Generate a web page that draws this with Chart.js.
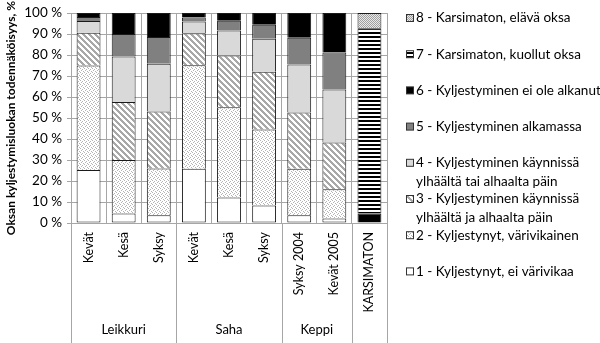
<!DOCTYPE html>
<html>
<head>
<meta charset="utf-8">
<script src="https://cdn.jsdelivr.net/npm/chart.js@4/dist/chart.umd.min.js"></script>
<style>
    html, body { margin: 0; padding: 0; background: #fff; }
    #wrap { position: relative; width: 600px; height: 343px; }
</style>
</head>
<body>
<div id="wrap"><canvas id="branchChart" width="600" height="343"></canvas></div>
<script>
// Categories and groups
const categories = ['Kevät', 'Kesä', 'Syksy', 'Kevät', 'Kesä', 'Syksy', 'Syksy 2004', 'Kevät 2005', 'KARSIMATON'];
const groupNames = ['Leikkuri', 'Saha', 'Keppi', ''];
const groupSizes = [3, 3, 2, 1];
const yTicks = [0, 10, 20, 30, 40, 50, 60, 70, 80, 90, 100];

// Series names (legend lines)
const seriesNames = [
    ['1 - Kyljestynyt, ei värivikaa'],
    ['2 - Kyljestynyt, värivikainen'],
    ['3 - Kyljestyminen käynnissä', 'ylhäältä ja alhaalta päin'],
    ['4 - Kyljestyminen käynnissä', 'ylhäältä tai alhaalta päin'],
    ['5 - Kyljestyminen alkamassa'],
    ['6 - Kyljestyminen ei ole alkanut'],
    ['7 - Karsimaton, kuollut oksa'],
    ['8 - Karsimaton, elävä oksa']
];

// Values (%), one array per class
const class1 = [25.3, 4.5, 3.7, 25.8, 12.2, 8.3, 3.7, 2.2, null];
const class2 = [49.7, 25.5, 22.3, 49.4, 42.9, 36.3, 22.1, 13.9, null];
const class3 = [15.6, 27.7, 27.1, 15.2, 24.7, 27.5, 26.8, 22.3, null];
const class4 = [5.6, 21.6, 22.8, 5.6, 11.9, 15.7, 22.9, 25.2, null];
const class5 = [2.0, 10.8, 12.7, 1.9, 4.6, 6.6, 12.8, 17.6, null];
const class6 = [1.8, 9.9, 11.4, 2.1, 3.7, 5.6, 11.7, 18.8, 4.5];
const class7 = [null, null, null, null, null, null, null, null, 88.3];
const class8 = [null, null, null, null, null, null, null, null, 7.2];

const FONT = 'Lato, "Open Sans", sans-serif';
const GRID = '#a6a6a6';

function makePattern(w, h, draw) {
    const c = document.createElement('canvas');
    c.width = w;
    c.height = h;
    const g = c.getContext('2d');
    draw(g, w, h);
    return g.createPattern(c, 'repeat');
}

const ctxMain = document.getElementById('branchChart').getContext('2d');

const fills = [
    '#ffffff',
    // light stipple
    makePattern(4, 4, (g) => {
        g.fillStyle = '#ffffff'; g.fillRect(0, 0, 4, 4);
        g.fillStyle = '#b4b4b4';
        g.fillRect(0, 0, 1, 1); g.fillRect(2, 1, 1, 1); g.fillRect(1, 2, 1, 1); g.fillRect(3, 3, 1, 1);
    }),
    // diagonal hatch
    makePattern(6, 6, (g) => {
        g.fillStyle = '#ffffff'; g.fillRect(0, 0, 6, 6);
        g.fillStyle = '#a8a8a8';
        for (let i = 0; i < 6; i++) {
            g.fillRect(i, i, 1, 1);
            g.fillRect((i + 1) % 6, i, 1, 1);
            g.fillRect((i + 2) % 6, i, 1, 1);
        }
    }),
    '#d9d9d9',
    '#808080',
    '#000000',
    // horizontal stripes
    makePattern(4, 4, (g) => {
        g.fillStyle = '#ffffff'; g.fillRect(0, 0, 4, 4);
        g.fillStyle = '#000000'; g.fillRect(0, 0, 4, 2);
    }),
    // dense dots
    makePattern(2, 2, (g) => {
        g.fillStyle = '#e8e8e8'; g.fillRect(0, 0, 2, 2);
        g.fillStyle = '#a0a0a0'; g.fillRect(0, 0, 1, 1); g.fillRect(1, 1, 1, 1);
    })
];

const seriesData = [class1, class2, class3, class4, class5, class6, class7, class8];

const groupPlugin = {
    id: 'groupLabels',
    afterDraw(chart) {
        const ctx = chart.ctx;
        const area = chart.chartArea;
        const cat = (area.right - area.left) / categories.length;
        ctx.save();
        ctx.strokeStyle = GRID;
        ctx.lineWidth = 1;
        ctx.fillStyle = '#000';
        ctx.font = '13px ' + FONT;
        ctx.textAlign = 'center';
        ctx.textBaseline = 'middle';
        let idx = 0;
        const bounds = [0];
        groupSizes.forEach((n, gi) => {
            const x0 = area.left + idx * cat;
            const x1 = area.left + (idx + n) * cat;
            ctx.fillText(groupNames[gi], (x0 + x1) / 2, 330);
            idx += n;
            bounds.push(idx);
        });
        bounds.forEach(b => {
            const px = Math.round(area.left + b * cat) + 0.5;
            ctx.beginPath();
            ctx.moveTo(px, area.bottom);
            ctx.lineTo(px, chart.height);
            ctx.stroke();
        });
        ctx.restore();
    }
};

const legendPlugin = {
    id: 'sideLegend',
    afterDraw(chart) {
        const ctx = chart.ctx;
        ctx.save();
        ctx.font = '13.5px ' + FONT;
        ctx.textBaseline = 'middle';
        ctx.textAlign = 'left';
        // top entry is class 8
        for (let i = 0; i < seriesNames.length; i++) {
            const s = seriesNames.length - 1 - i;
            const y = 18 + i * 36.2;
            ctx.fillStyle = fills[s];
            ctx.fillRect(406, y - 3.5, 7, 7);
            ctx.strokeStyle = '#333';
            ctx.lineWidth = 1;
            ctx.strokeRect(406.5, y - 3.5, 7, 7);
            ctx.fillStyle = '#000';
            seriesNames[s].forEach((line, li) => {
                ctx.fillText(line, 416, y + li * 19);
            });
        }
        ctx.restore();
    }
};

new Chart(ctxMain, {
    type: 'bar',
    data: {
        labels: categories,
        datasets: seriesData.map((d, i) => ({
            label: seriesNames[i].join(' '),
            data: d,
            backgroundColor: fills[i],
            borderColor: '#1a1a1a',
            borderWidth: 1,
            // only the lowest class keeps its bottom edge, so shared edges stay thin
            borderSkipped: i === 0 ? false : 'start',
            categoryPercentage: 1,
            barPercentage: 0.68
        }))
    },
    options: {
        responsive: false,
        animation: false,
        devicePixelRatio: 1,
        layout: { padding: { top: 7, right: 213, left: 0, bottom: 0 } },
        plugins: {
            legend: { display: false },
            tooltip: { enabled: false }
        },
        scales: {
            x: {
                stacked: true,
                afterFit: (scale) => { scale.height = 120; },
                grid: { color: GRID, drawTicks: false, offset: true },
                border: { color: GRID },
                ticks: {
                    color: '#000',
                    font: { family: FONT, size: 12.5 },
                    minRotation: 90,
                    maxRotation: 90,
                    autoSkip: false,
                    padding: 9
                }
            },
            y: {
                stacked: true,
                min: 0,
                max: 100,
                afterFit: (scale) => { scale.width = 71; },
                afterBuildTicks: (scale) => { scale.ticks = yTicks.map(v => ({ value: v })); },
                grid: { color: GRID, tickLength: 4 },
                border: { color: GRID },
                ticks: {
                    color: '#000',
                    font: { family: FONT, size: 13.5 },
                    padding: 5,
                    callback: (v) => v + ' %'
                },
                title: {
                    display: true,
                    text: 'Oksan kyljestymisluokan todennäköisyys, %',
                    color: '#000',
                    font: { family: FONT, size: 12, weight: 'bold' },
                    padding: { top: 4, bottom: 0 }
                }
            }
        }
    },
    plugins: [groupPlugin, legendPlugin]
});
</script>
</body>
</html>
